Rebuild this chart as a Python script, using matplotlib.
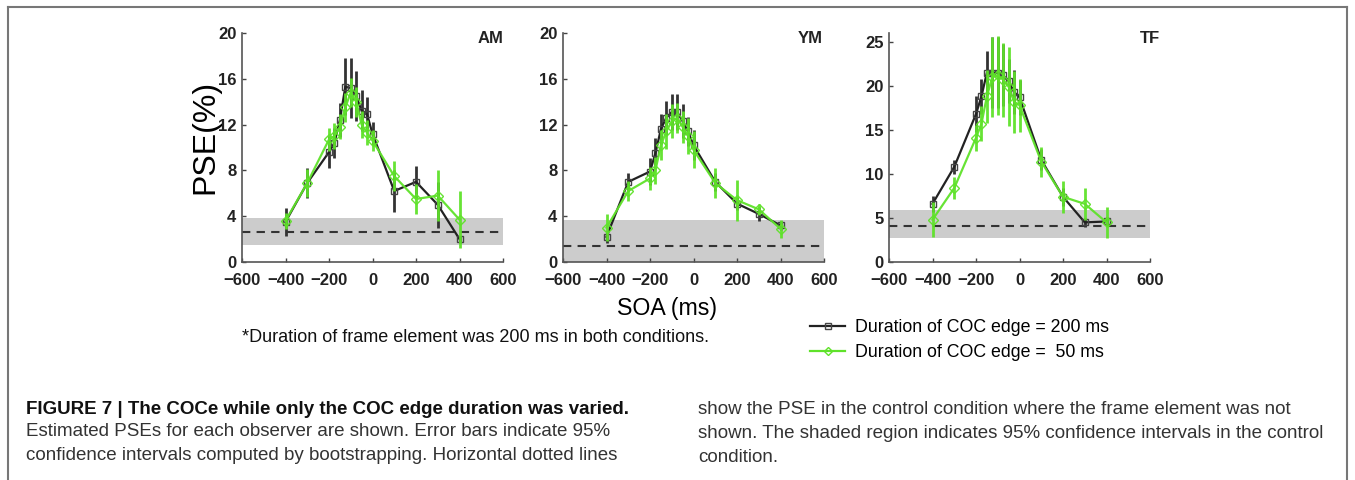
import numpy as np
import matplotlib
matplotlib.use("Agg")
from matplotlib import pyplot as plt
from matplotlib.lines import Line2D

plt.rcParams['font.family'] = ['Liberation Sans', 'DejaVu Sans']

soa = [-400, -300, -200, -175, -150, -125, -100, -75, -50, -25, 0, 100, 200, 300, 400]

observers = ["AM", "YM", "TF"]

am_200 = [3.5, 6.9, 9.6, 10.4, 12.4, 15.3, 15.2, 14.5, 13.2, 12.9, 11.2, 6.2, 7.0, 5.0, 2.0]
am_200_err = [1.2, 1.3, 1.4, 1.3, 1.5, 2.5, 2.6, 2.2, 1.8, 1.5, 1.0, 1.8, 1.4, 2.0, 0.3]
am_50 = [3.6, 6.9, 10.7, 11.0, 11.8, 13.5, 14.8, 14.0, 12.0, 11.3, 10.6, 7.5, 5.5, 5.8, 3.7]
am_50_err = [0.7, 1.2, 1.0, 1.1, 1.1, 1.3, 1.3, 1.3, 1.2, 1.1, 0.9, 1.3, 1.3, 2.2, 2.5]

ym_200 = [2.2, 7.0, 7.9, 9.5, 11.6, 12.6, 13.1, 13.1, 12.3, 11.4, 10.2, 7.0, 5.1, 4.2, 3.2]
ym_200_err = [0.5, 0.8, 1.2, 1.3, 1.3, 1.5, 1.6, 1.6, 1.5, 1.3, 1.3, 0.8, 0.6, 0.6, 0.4]
ym_50 = [3.0, 6.2, 7.3, 8.0, 10.2, 11.4, 12.3, 12.6, 11.8, 11.0, 9.8, 6.9, 5.4, 4.6, 2.9]
ym_50_err = [1.2, 0.9, 1.0, 1.2, 1.3, 1.5, 1.5, 1.3, 1.4, 1.6, 1.6, 1.3, 1.8, 0.5, 0.8]

tf_200 = [6.6, 10.8, 16.8, 18.8, 21.5, 21.5, 21.5, 21.2, 20.5, 19.3, 18.7, 11.6, 7.4, 4.5, 4.6]
tf_200_err = [0.9, 0.8, 2.0, 2.0, 2.5, 4.0, 4.0, 3.5, 2.5, 2.5, 2.0, 1.2, 1.0, 0.5, 0.5]
tf_50 = [4.8, 8.4, 14.1, 15.7, 18.8, 21.0, 21.2, 20.7, 19.9, 18.2, 17.8, 11.4, 7.4, 6.6, 4.5]
tf_50_err = [2.0, 1.2, 1.5, 2.0, 3.0, 4.5, 4.5, 4.2, 4.5, 3.5, 3.0, 1.7, 1.8, 1.8, 1.8]

# control condition: dashed line and 95% band
control_pse = [2.6, 1.4, 4.1]
control_lo = [1.5, 0.0, 2.7]
control_hi = [3.8, 3.7, 5.9]

ymax = [20, 20, 26]
yticks = [[0, 4, 8, 12, 16, 20], [0, 4, 8, 12, 16, 20], [0, 5, 10, 15, 20, 25]]
xticks = [-600, -400, -200, 0, 200, 400, 600]

series_200 = [(am_200, am_200_err), (ym_200, ym_200_err), (tf_200, tf_200_err)]
series_50 = [(am_50, am_50_err), (ym_50, ym_50_err), (tf_50, tf_50_err)]

black = '#222222'
green = '#5fe22a'

W, H = 1355, 480
fig = plt.figure(figsize=(W / 100, H / 100), dpi=100)
fig.patch.set_facecolor('white')

lefts = [242, 563, 889]
name_x = [1.0, 0.995, 1.04]
for i in range(3):
    ax = fig.add_axes([lefts[i] / W, 1 - 262 / H, 261 / W, 229 / H])
    ax.axhspan(control_lo[i], control_hi[i], color='#cccccc', lw=0, zorder=0)
    ax.axhline(control_pse[i], color='#333333', lw=1.5, ls=(0, (4, 3)), zorder=1)
    y, e = series_200[i]
    ax.errorbar(soa, y, yerr=e, color=black, ecolor='#333333', elinewidth=2.0, lw=1.6,
                marker='s', ms=5, mfc='none', mec='#444444', mew=1.0, capsize=0, zorder=3)
    y, e = series_50[i]
    ax.errorbar(soa, y, yerr=e, color=green, ecolor=green, elinewidth=2.0, lw=1.6,
                marker='D', ms=5, mfc='none', mec=green, mew=1.0, capsize=0, zorder=4, alpha=0.95)
    ax.set_xlim(-600, 600)
    ax.set_ylim(0, ymax[i])
    ax.set_xticks(xticks)
    ax.set_xticklabels([str(t).replace('-', '\u2212') for t in xticks])
    ax.set_yticks(yticks[i])
    ax.tick_params(direction='in', length=3, width=1, color='#444444', labelsize=12,
                   labelcolor='#222222')
    ax.tick_params(axis='x', pad=8)
    ax.tick_params(axis='y', pad=4)
    for lab in ax.get_xticklabels() + ax.get_yticklabels():
        lab.set_fontweight('bold')
    for s in ['top', 'right']:
        ax.spines[s].set_visible(False)
    for s in ['left', 'bottom']:
        ax.spines[s].set_color('#555555')
        ax.spines[s].set_linewidth(1.2)
    ax.text(name_x[i], 1.01, observers[i], transform=ax.transAxes, ha='right', va='top',
            fontsize=12, fontweight='bold', color='#222222')

fig.text(205 / W, 1 - 137 / H, 'PSE(%)', rotation=90, ha='center', va='center', fontsize=23)
fig.text(667 / W, 1 - 309 / H, 'SOA (ms)', ha='center', va='center', fontsize=16.7)
fig.text(242 / W, 1 - 338 / H, '*Duration of frame element was 200 ms in both conditions.',
         ha='left', va='center', fontsize=13, color='#111111')

handles = [Line2D([], [], color=black, lw=1.6, marker='s', ms=4, mfc='none', mec='#444444'),
           Line2D([], [], color=green, lw=1.6, marker='D', ms=4, mfc='none', mec=green)]
fig.legend(handles, ['Duration of COC edge = 200 ms', 'Duration of COC edge =  50 ms'],
           loc='upper left', bbox_to_anchor=(810 / W, 1 - 319 / H), frameon=False,
           borderpad=0, borderaxespad=0,
           handlelength=1.97, handletextpad=0.56, labelspacing=0.44,
           prop={'size': 12.8})

# caption
fig.text(26 / W, 1 - 409 / H, 'FIGURE 7 | The COCe while only the COC edge duration was varied.',
         ha='left', va='center', fontsize=13.5, fontweight='bold', color='#111111')
left_lines = ['Estimated PSEs for each observer are shown. Error bars indicate 95%',
              'confidence intervals computed by bootstrapping. Horizontal dotted lines']
right_lines = ['show the PSE in the control condition where the frame element was not',
               'shown. The shaded region indicates 95% confidence intervals in the control',
               'condition.']
for k, t in enumerate(left_lines):
    fig.text(26 / W, 1 - (432 + 24 * k) / H, t, ha='left', va='center', fontsize=13.5,
             color='#333333')
for k, t in enumerate(right_lines):
    fig.text(698 / W, 1 - (409 + 24 * k) / H, t, ha='left', va='center', fontsize=13.5,
             color='#333333')

# page frame
frame_kw = dict(color='#777777', lw=1.5, transform=fig.transFigure)
fig.add_artist(Line2D([8 / W, 8 / W], [0, 1 - 7 / H], **frame_kw))
fig.add_artist(Line2D([8 / W, 1347 / W], [1 - 7 / H, 1 - 7 / H], **frame_kw))
fig.add_artist(Line2D([1347 / W, 1347 / W], [0, 1 - 7 / H], **frame_kw))

fig.savefig('out.png', dpi=100, facecolor='white')
